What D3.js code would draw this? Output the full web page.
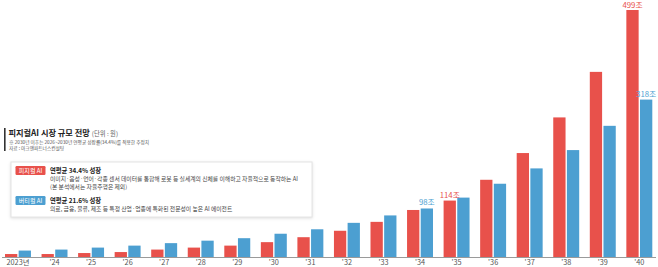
<!DOCTYPE html>
<html>
<head>
<meta charset="utf-8">
<script src="https://cdn.jsdelivr.net/npm/d3@7"></script>
<style>
  body { margin: 0; background: #fff; }
  svg { display: block; font-family: 'Noto Sans CJK KR', 'Noto Sans', sans-serif; }
</style>
</head>
<body>
<svg id="chart" width="658" height="267"></svg>
<script>
// data (조 원)
const years = ['2023년', "'24", "'25", "'26", "'27", "'28", "'29", "'30", "'31", "'32", "'33", "'34", "'35", "'36", "'37", "'38", "'39", "'40"];
const physicalAI = [6, 6, 8, 10, 15, 19, 23, 30, 40, 53, 71, 95, 114, 156, 210, 282, 374, 499];
const verticalAI = [13, 15, 19, 23, 28, 33, 38, 47, 56, 69, 84, 98, 120, 148, 179, 216, 265, 318];
const seriesKeys = ['physical', 'vertical'];
// which values get a label on top
const labeled = [
  { key: 'vertical', idx: 11, text: '98조' },
  { key: 'physical', idx: 12, text: '114조' },
  { key: 'physical', idx: 17, text: '499조' },
  { key: 'vertical', idx: 17, text: '318조' },
];

const RED = '#e8514b';
const BLUE = '#4c9fd1';
const colors = { physical: RED, vertical: BLUE };

const rows = years.map((y, i) => ({ year: y, physical: physicalAI[i], vertical: verticalAI[i] }));

const svg = d3.select('#chart');
const baseY = 257;

const x = d3.scaleBand().domain(years).range([5, 652.3]).paddingInner(0.29).paddingOuter(0);
const xs = d3.scaleBand().domain(seriesKeys).range([0, x.bandwidth()]).paddingInner(0.1);
const y = d3.scaleLinear().domain([0, 499]).range([baseY, 10]);

// bars
const groups = svg.append('g')
  .selectAll('g')
  .data(rows)
  .enter()
  .append('g')
  .attr('transform', (d) => `translate(${x(d.year)},0)`);

groups.selectAll('rect')
  .data((d) => seriesKeys.map((k) => ({ key: k, value: d[k] })))
  .enter()
  .append('rect')
  .attr('x', (d) => xs(d.key))
  .attr('width', xs.bandwidth())
  .attr('y', (d) => y(d.value))
  .attr('height', (d) => baseY - y(d.value))
  .attr('fill', (d) => colors[d.key]);

// value labels
svg.append('g')
  .selectAll('text')
  .data(labeled)
  .enter()
  .append('text')
  .attr('x', (d) => x(years[d.idx]) + xs(d.key) + xs.bandwidth() / 2)
  .attr('y', (d) => Math.max(7.8, y(d.key === 'physical' ? physicalAI[d.idx] : verticalAI[d.idx]) - 3))
  .attr('text-anchor', 'middle')
  .attr('fill', (d) => colors[d.key])
  .style('font-size', '7.8px')
  .text((d) => d.text);

// x axis
const xAxis = svg.append('g')
  .attr('transform', `translate(0,${baseY})`)
  .call(d3.axisBottom(x).tickSize(0).tickPadding(3));
xAxis.select('.domain').attr('stroke', '#9a9a9a').attr('d', 'M2,0.5H656');
xAxis.selectAll('text')
  .attr('fill', '#555')
  .style('font-family', "'Noto Sans CJK KR', sans-serif")
  .style('font-size', '7.3px');

// title block
const head = svg.append('g');
head.append('rect').attr('x', 4).attr('y', 128).attr('width', 1.6).attr('height', 23).attr('fill', '#333');
const title = head.append('text').attr('x', 8.5).attr('y', 136.3).attr('fill', '#222');
title.append('tspan').style('font-size', '8.2px').style('font-weight', 700).text('피지컬AI 시장 규모 전망');
title.append('tspan').attr('dx', 2).style('font-size', '6.3px').attr('fill', '#666').text('(단위 : 원)');
head.append('text').attr('x', 9).attr('y', 144).style('font-size', '4.7px').attr('fill', '#555')
  .text('※ 2030년 이후는 2026~2030년 연평균 성장률(34.4%)를 적용한 추정치');
head.append('text').attr('x', 9).attr('y', 150).style('font-size', '4.7px').attr('fill', '#555')
  .text('자료 : 아크앤파트너스컨설팅');

// legend box
const box = svg.append('g');
box.append('rect').attr('x', 11).attr('y', 162).attr('width', 301).attr('height', 55)
  .attr('fill', '#fff').attr('stroke', '#e4e4e4').attr('stroke-width', 1)
  .style('filter', 'drop-shadow(0px 1px 1.5px rgba(0,0,0,0.12))');

const legendItems = [
  { tag: '피지컬 AI', color: RED, head: '연평균 34.4% 성장', lines: ['이미지·음성·언어·각종 센서 데이터를 통합해 로봇 등 실세계의 신체를 이해하고 자율적으로 동작하는 AI', '(본 분석에서는 자율주행은 제외)'], y: 166 },
  { tag: '버티컬 AI', color: BLUE, head: '연평균 21.6% 성장', lines: ['의료, 금융, 물류, 제조 등 특정 산업·업종에 특화된 전문성이 높은 AI 에이전트'], y: 196 },
];

legendItems.forEach((it) => {
  const g = box.append('g');
  g.append('rect').attr('x', 15.5).attr('y', it.y).attr('width', 30).attr('height', 9).attr('rx', 1.2).attr('fill', it.color);
  g.append('text').attr('x', 30.5).attr('y', it.y + 6.6).attr('text-anchor', 'middle').attr('fill', '#fff')
    .style('font-size', '6px').text(it.tag);
  g.append('text').attr('x', 50).attr('y', it.y + 6.8).attr('fill', '#222')
    .style('font-size', '6.3px').style('font-weight', 700).text(it.head);
  it.lines.forEach((ln, i) => {
    g.append('text').attr('x', 50).attr('y', it.y + 15.2 + i * 7.6).attr('fill', '#444')
      .style('font-size', '5.8px').text(ln);
  });
});
</script>
</body>
</html>
